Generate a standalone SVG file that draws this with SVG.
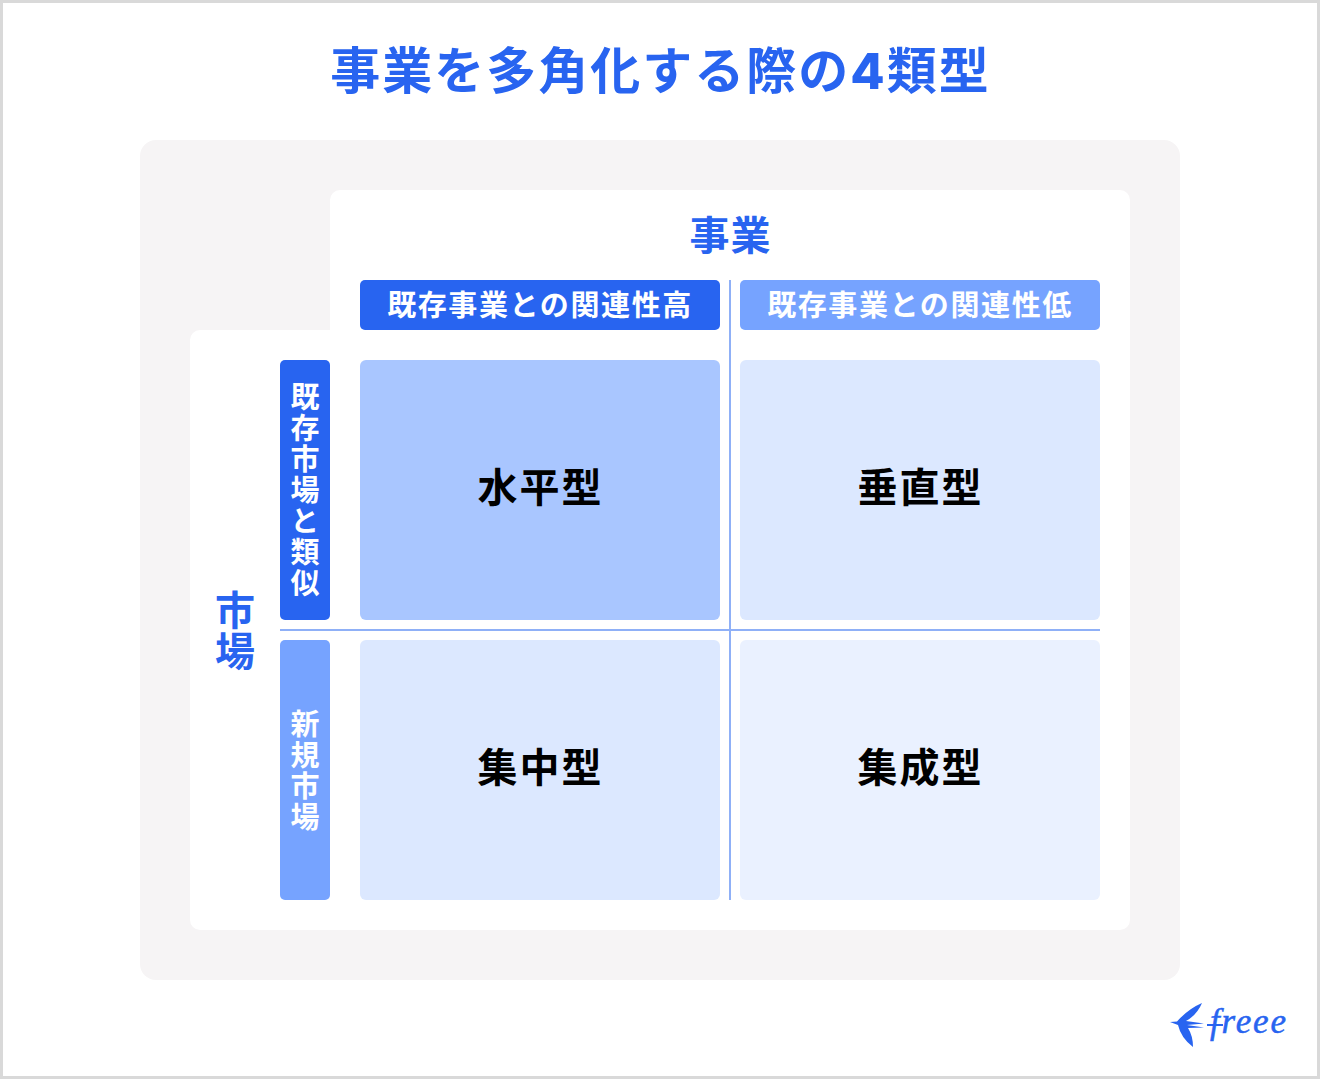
<svg xmlns="http://www.w3.org/2000/svg" width="1320" height="1080" viewBox="0 0 1320 1080">
<style>
text{font-family:"Noto Sans CJK JP","Noto Sans",sans-serif;font-weight:700;text-anchor:middle}
.title{font-size:50px;fill:#2864f0;letter-spacing:2px}
.num{font-family:Inter,"Noto Sans",sans-serif;font-weight:800;font-size:50px}
.axis{font-size:40px;fill:#2864f0;letter-spacing:1px}
.head{font-size:29px;fill:#fff;letter-spacing:1.6px}
.vert{font-size:29px;fill:#fff;letter-spacing:2px;writing-mode:vertical-rl;text-orientation:upright}
.avert{font-size:40px;fill:#2864f0;letter-spacing:1px;writing-mode:vertical-rl;text-orientation:upright}
.cell{font-size:40px;fill:#000;letter-spacing:2px}
.d{fill:#2864f0}.m{fill:#76a3ff}
.c1{fill:#a9c6ff}.c2{fill:#dce8ff}.c3{fill:#eaf1ff}
.ln{stroke:#8fb0f7;stroke-width:2;fill:none}
</style>
<rect x="1.500" y="1.500" width="1317" height="1076" fill="#fff" stroke="#d9d9d9" stroke-width="3"/>
<text class="title" x="660.500" y="89">事業を多角化する際の<tspan class="num">4</tspan>類型</text>
<g id="panel">
<rect x="140" y="140" width="1040" height="840" rx="16" fill="#f6f4f5"/>
<path d="M340 190H1120a10 10 0 0 1 10 10V920a10 10 0 0 1-10 10H200a10 10 0 0 1-10-10V340a10 10 0 0 1 10-10H330V200a10 10 0 0 1 10-10Z" fill="#fff"/>
</g>
<g id="connectors">
<path class="ln" d="M730 280V900M280 630H1100"/>
</g>
<g id="axis-business"><text class="axis" x="730.500" y="250">事業</text></g>
<g id="axis-market"><text class="avert" x="235" y="631">市場</text></g>
<g id="head-high"><rect class="d" x="360" y="280" width="360" height="50" rx="5"/><text class="head" x="540" y="316">既存事業との関連性高</text></g>
<g id="head-low"><rect class="m" x="740" y="280" width="360" height="50" rx="5"/><text class="head" x="920" y="316">既存事業との関連性低</text></g>
<g id="side-existing"><rect class="d" x="280" y="360" width="50" height="260" rx="5"/>
<text class="vert" x="305" y="491">既存市場と類似</text></g>
<g id="side-new"><rect class="m" x="280" y="640" width="50" height="260" rx="5"/>
<text class="vert" x="305" y="771">新規市場</text></g>
<g id="cell-horizontal"><rect class="c1" x="360" y="360" width="360" height="260" rx="6"/><text class="cell" x="540.500" y="502">水平型</text></g>
<g id="cell-vertical"><rect class="c2" x="740" y="360" width="360" height="260" rx="6"/><text class="cell" x="920.500" y="502">垂直型</text></g>
<g id="cell-focus"><rect class="c2" x="360" y="640" width="360" height="260" rx="6"/><text class="cell" x="540.500" y="782">集中型</text></g>
<g id="cell-conglomerate"><rect class="c3" x="740" y="640" width="360" height="260" rx="6"/><text class="cell" x="920.500" y="782">集成型</text></g>
<g id="logo">
<path class="d" d="M1170 1022L1177 1021.500Q1188 1009 1202 1003Q1197 1015 1186 1021L1204 1023.500L1187 1025L1204 1027.500L1188 1028Q1193 1036 1193 1047Q1181 1038 1178 1025Z"/>
<rect class="d" x="1207" y="1024" width="16" height="2"/>
<text x="1248" y="1033" textLength="76" style="font-family:'Liberation Serif',serif;font-style:italic;font-weight:400;font-size:35px;fill:#2864f0;stroke:#2864f0;stroke-width:.5">freee</text>
</g>
</svg>
